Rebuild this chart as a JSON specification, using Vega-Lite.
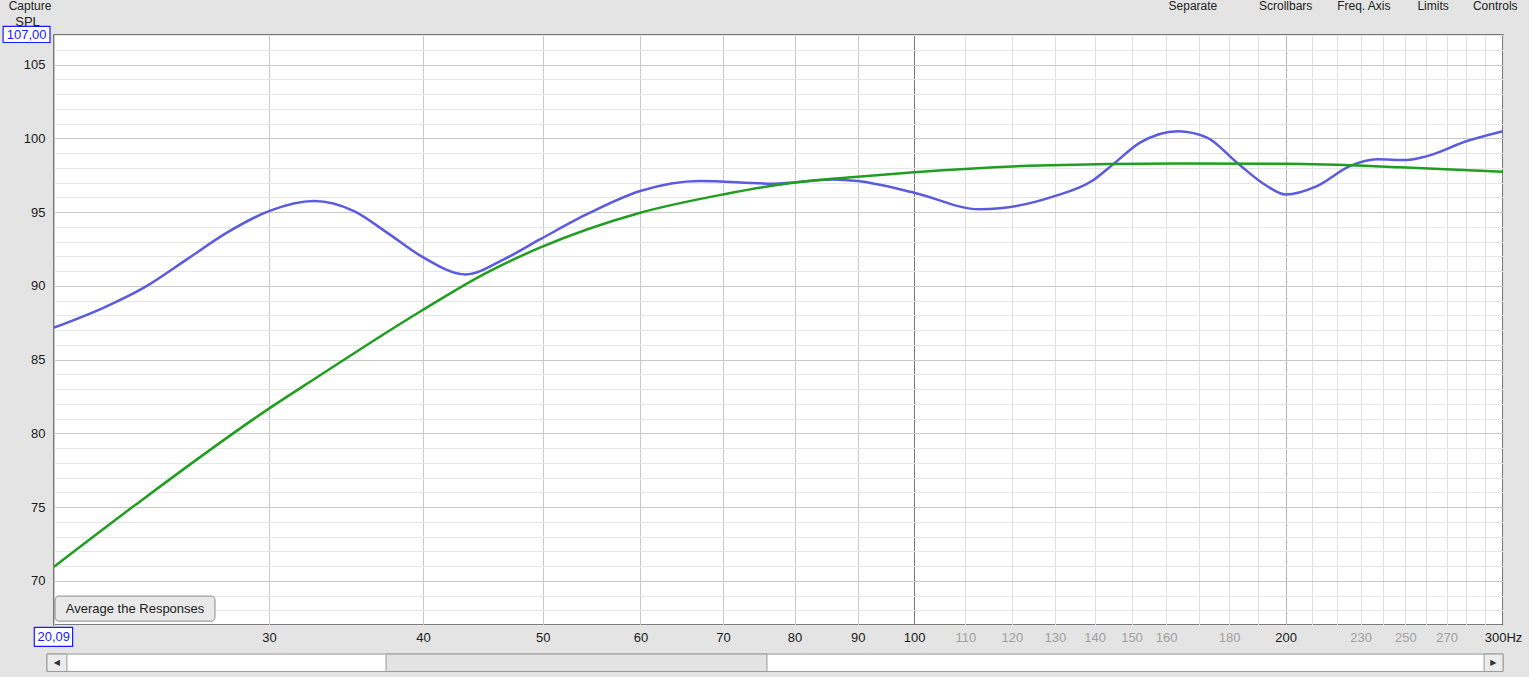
{
  "$schema": "https://vega.github.io/schema/vega-lite/v6.json",
  "width": 1449,
  "height": 590,
  "autosize": {"type": "none"},
  "padding": {"left": 54, "top": 35, "right": 26, "bottom": 52},
  "background": "#e4e4e4",
  "config": {
    "view": {"fill": "white", "stroke": "#505050", "strokeWidth": 1.5},
    "font": "Liberation Sans"
  },
  "datasets": {
    "measured": [
      {"freq": 20.09, "spl": 87.16}, {"freq": 22.05, "spl": 88.52}, {"freq": 23.76, "spl": 89.87},
      {"freq": 25.74, "spl": 91.79}, {"freq": 27.74, "spl": 93.6}, {"freq": 30, "spl": 95.06},
      {"freq": 32.63, "spl": 95.74}, {"freq": 35.16, "spl": 95.06}, {"freq": 37.4, "spl": 93.6},
      {"freq": 39.85, "spl": 92.01}, {"freq": 43.33, "spl": 90.77}, {"freq": 46.51, "spl": 91.79},
      {"freq": 49.74, "spl": 93.14}, {"freq": 54.61, "spl": 94.95}, {"freq": 59.98, "spl": 96.42},
      {"freq": 67.05, "spl": 97.1}, {"freq": 76.84, "spl": 96.92}, {"freq": 85.96, "spl": 97.21},
      {"freq": 90, "spl": 97.1}, {"freq": 100, "spl": 96.31}, {"freq": 113.06, "spl": 95.18},
      {"freq": 117.36, "spl": 95.25}, {"freq": 129.56, "spl": 96.04}, {"freq": 139.62, "spl": 97.15},
      {"freq": 144.92, "spl": 98.23}, {"freq": 152.41, "spl": 99.7}, {"freq": 163.61, "spl": 100.48},
      {"freq": 172.71, "spl": 100.04}, {"freq": 182.64, "spl": 98.34}, {"freq": 193.14, "spl": 96.76},
      {"freq": 200, "spl": 96.19}, {"freq": 212.03, "spl": 96.76}, {"freq": 225.45, "spl": 98.11},
      {"freq": 237.1, "spl": 98.57}, {"freq": 250.7, "spl": 98.52}, {"freq": 260.4, "spl": 98.79},
      {"freq": 280.5, "spl": 99.81}, {"freq": 300, "spl": 100.48}
    ],
    "target": [
      {"freq": 20.09, "spl": 70.95}, {"freq": 23.33, "spl": 75.08}, {"freq": 30, "spl": 81.67},
      {"freq": 32.63, "spl": 83.66}, {"freq": 39.85, "spl": 88.29}, {"freq": 45.05, "spl": 90.89},
      {"freq": 49.74, "spl": 92.58}, {"freq": 59.98, "spl": 94.95}, {"freq": 70, "spl": 96.19},
      {"freq": 79.76, "spl": 96.99}, {"freq": 90, "spl": 97.39}, {"freq": 100, "spl": 97.7},
      {"freq": 126.46, "spl": 98.16}, {"freq": 163.4, "spl": 98.29}, {"freq": 200, "spl": 98.27},
      {"freq": 247.6, "spl": 98.04}, {"freq": 300, "spl": 97.73}
    ],
    "toolbar": [
      {"label": "Capture", "freq": 19.21},
      {"label": "Separate", "freq": 168.2},
      {"label": "Scrollbars", "freq": 200},
      {"label": "Freq. Axis", "freq": 231.4},
      {"label": "Limits", "freq": 263.3},
      {"label": "Controls", "freq": 295.7}
    ]
  },
  "layer": [
    {
      "data": {"name": "measured"},
      "mark": {"type": "line", "interpolate": "monotone", "color": "#5b5bdf", "strokeWidth": 2.5, "clip": true},
      "encoding": {
        "x": {
          "field": "freq", "type": "quantitative",
          "scale": {"type": "log", "domain": [20.09, 300], "nice": false},
          "axis": {
            "title": null,
            "tickCount": 200,
            "values": [20.09, 30, 40, 50, 60, 70, 80, 90, 100, 110, 120, 130, 140, 150, 160, 170, 180, 190, 200, 210, 220, 230, 240, 250, 260, 270, 280, 290, 300],
            "labelExpr": "datum.value == 20.09 ? '' : datum.value == 300 ? '300Hz' : indexof([170, 190, 210, 220, 240, 260, 280, 290], datum.value) >= 0 ? '' : format(datum.value, 'd')",
            "labelFont": "Liberation Sans",
            "labelFontSize": 13,
            "labelColor": {"condition": {"test": "(datum.value > 100 && datum.value < 200) || (datum.value > 200 && datum.value < 300)", "value": "#a0a0a0"}, "value": "#1a1a1a"},
            "labelPadding": 6,
            "labelOverlap": false,
            "labelFlush": false,
            "labelBound": false,
            "ticks": false,
            "domain": false,
            "grid": true,
            "gridWidth": 1,
            "gridColor": {"condition": [
              {"test": "datum.value == 100", "value": "#7a7a7a"},
              {"test": "datum.value == 200", "value": "#b4b4b4"},
              {"test": "datum.value > 100", "value": "#e0e0e0"}
            ], "value": "#c8c8c8"}
          }
        },
        "y": {
          "field": "spl", "type": "quantitative",
          "scale": {"domain": [67, 107], "nice": false, "zero": false},
          "axis": {
            "title": "SPL",
            "titleAngle": 0,
            "titleX": -27,
            "titleY": -14,
            "titleAlign": "center",
            "titleBaseline": "middle",
            "titleFont": "Liberation Sans",
            "titleFontSize": 13,
            "titleFontWeight": "normal",
            "titleColor": "#1a1a1a",
            "tickCount": 200,
            "values": [67, 68, 69, 70, 71, 72, 73, 74, 75, 76, 77, 78, 79, 80, 81, 82, 83, 84, 85, 86, 87, 88, 89, 90, 91, 92, 93, 94, 95, 96, 97, 98, 99, 100, 101, 102, 103, 104, 105, 106, 107],
            "labelExpr": "datum.value == 107 ? '' : (datum.value % 5 == 0 ? format(datum.value, 'd') : '')",
            "labelFont": "Liberation Sans",
            "labelFontSize": 13,
            "labelColor": "#1a1a1a",
            "labelPadding": 9,
            "labelOverlap": false,
            "labelFlush": false,
            "labelBound": false,
            "ticks": false,
            "domain": false,
            "grid": true,
            "gridWidth": 1,
            "gridColor": {"condition": {"test": "datum.value % 5 == 0", "value": "#c8c8c8"}, "value": "#e6e6e6"}
          }
        }
      }
    },
    {
      "data": {"name": "target"},
      "mark": {"type": "line", "interpolate": "monotone", "color": "#1f9e1f", "strokeWidth": 2.5, "clip": true},
      "encoding": {
        "x": {"field": "freq", "type": "quantitative"},
        "y": {"field": "spl", "type": "quantitative"}
      }
    },
    {
      "data": {"values": [{"label": "Average the Responses"}]},
      "mark": {"type": "rect", "fill": "#e9e9e9", "stroke": "#8a8a8a", "strokeWidth": 1, "cornerRadius": 4},
      "encoding": {
        "x": {"datum": 20.13, "type": "quantitative"},
        "x2": {"datum": 27.13},
        "y": {"datum": 68.96, "type": "quantitative"},
        "y2": {"datum": 67.26}
      }
    },
    {
      "data": {"values": [{"label": "Average the Responses"}]},
      "mark": {"type": "text", "font": "Liberation Sans", "fontSize": 13, "color": "#222222", "align": "center", "baseline": "middle"},
      "encoding": {
        "x": {"datum": 23.37, "type": "quantitative"},
        "y": {"datum": 68.1, "type": "quantitative"},
        "text": {"field": "label"}
      }
    },
    {
      "data": {"values": [{"limit": "top"}]},
      "mark": {"type": "rect", "fill": "#ffffff", "stroke": "#1a1aff", "strokeWidth": 1.2, "clip": false},
      "encoding": {
        "x": {"datum": 18.27, "type": "quantitative"},
        "x2": {"datum": 19.94},
        "y": {"datum": 107.58, "type": "quantitative"},
        "y2": {"datum": 106.49}
      }
    },
    {
      "data": {"values": [{"label": "107,00"}]},
      "mark": {"type": "text", "font": "Liberation Sans", "fontSize": 13, "color": "#1a1aff", "align": "center", "baseline": "middle", "clip": false},
      "encoding": {
        "x": {"datum": 19.09, "type": "quantitative"},
        "y": {"datum": 107.03, "type": "quantitative"},
        "text": {"field": "label"}
      }
    },
    {
      "data": {"values": [{"limit": "left"}]},
      "mark": {"type": "rect", "fill": "#ffffff", "stroke": "#1a1aff", "strokeWidth": 1.2, "clip": false},
      "encoding": {
        "x": {"datum": 19.365, "type": "quantitative"},
        "x2": {"datum": 20.8},
        "y": {"datum": 66.84, "type": "quantitative"},
        "y2": {"datum": 65.55}
      }
    },
    {
      "data": {"values": [{"label": "20,09"}]},
      "mark": {"type": "text", "font": "Liberation Sans", "fontSize": 13, "color": "#1a1aff", "align": "center", "baseline": "middle", "clip": false},
      "encoding": {
        "x": {"datum": 20.08, "type": "quantitative"},
        "y": {"datum": 66.18, "type": "quantitative"},
        "text": {"field": "label"}
      }
    },
    {
      "data": {"name": "toolbar"},
      "mark": {"type": "text", "font": "Liberation Sans", "fontSize": 12, "color": "#222222", "align": "center", "baseline": "top", "clip": false},
      "encoding": {
        "x": {"field": "freq", "type": "quantitative"},
        "y": {"datum": 109.33, "type": "quantitative"},
        "text": {"field": "label"}
      }
    },
    {
      "data": {"values": [{"part": "track"}]},
      "mark": {"type": "rect", "fill": "#ffffff", "stroke": "#9a9a9a", "strokeWidth": 1},
      "encoding": {
        "x": {"datum": 19.83, "type": "quantitative"},
        "x2": {"datum": 300},
        "y": {"datum": 65.03, "type": "quantitative"},
        "y2": {"datum": 63.85}
      }
    },
    {
      "data": {"values": [{"part": "thumb"}]},
      "mark": {"type": "rect", "fill": "#e3e3e3", "stroke": "#9a9a9a", "strokeWidth": 1},
      "encoding": {
        "x": {"datum": 37.33, "type": "quantitative"},
        "x2": {"datum": 75.98},
        "y": {"datum": 65.03, "type": "quantitative"},
        "y2": {"datum": 63.85}
      }
    },
    {
      "data": {"values": [{"part": "left arrow"}]},
      "mark": {"type": "rect", "fill": "#ececec", "stroke": "#9a9a9a", "strokeWidth": 1},
      "encoding": {
        "x": {"datum": 19.83, "type": "quantitative"},
        "x2": {"datum": 20.58},
        "y": {"datum": 65.03, "type": "quantitative"},
        "y2": {"datum": 63.85}
      }
    },
    {
      "data": {"values": [{"part": "right arrow"}]},
      "mark": {"type": "rect", "fill": "#ececec", "stroke": "#9a9a9a", "strokeWidth": 1},
      "encoding": {
        "x": {"datum": 289.6, "type": "quantitative"},
        "x2": {"datum": 300},
        "y": {"datum": 65.03, "type": "quantitative"},
        "y2": {"datum": 63.85}
      }
    },
    {
      "data": {"values": [{"arrow": "◀", "freq": 20.2}, {"arrow": "▶", "freq": 294.7}]},
      "mark": {"type": "text", "font": "DejaVu Sans", "fontSize": 8, "color": "#333333", "align": "center", "baseline": "middle"},
      "encoding": {
        "x": {"field": "freq", "type": "quantitative"},
        "y": {"datum": 64.44, "type": "quantitative"},
        "text": {"field": "arrow"}
      }
    }
  ]
}
